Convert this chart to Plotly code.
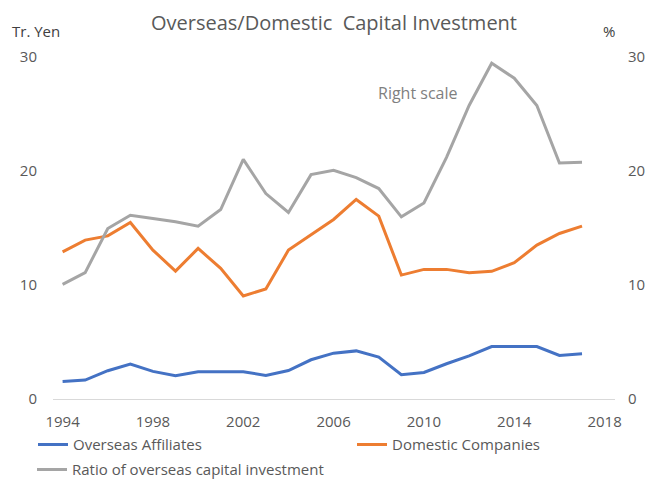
import plotly.graph_objects as go

years = list(range(1994, 2018))
overseas_affiliates = [1.54, 1.66, 2.48, 3.06, 2.42, 2.04, 2.39, 2.36, 2.39, 2.07, 2.5, 3.44,
                       4.02, 4.22, 3.67, 2.13, 2.33, 3.09, 3.79, 4.6, 4.6, 4.6, 3.82, 3.96]
domestic_companies = [12.91, 13.94, 14.31, 15.48, 13.06, 11.22, 13.21, 11.46, 9.04, 9.65, 13.06, 14.37,
                      15.75, 17.5, 16.04, 10.87, 11.37, 11.37, 11.08, 11.2, 11.95, 13.5, 14.52, 15.16]
overseas_ratio = [10.06, 11.08, 14.96, 16.12, 15.83, 15.54, 15.16, 16.62, 21.02, 18.02, 16.36, 19.68,
                  20.06, 19.42, 18.46, 15.98, 17.2, 21.2, 25.75, 29.45, 28.14, 25.75, 20.7, 20.76]
x_ticks = [1994, 1998, 2002, 2006, 2010, 2014, 2018]
y_ticks = [0, 10, 20, 30]

FONT = "'Open Sans', Lato, sans-serif"
GREY_TXT = "#595959"
OFF = 8  # page body margin
W, H = 654 - OFF, 480 - OFF
PT, PB, PL, PR = 57, 399.3, 53, 615  # plot area in window pixels
PH, PW = PB - PT, PR - PL
TICK_SIZE = 15


def py(pix):
    return (PB - pix) / PH


def px(pix):
    return (pix - PL) / PW


fig = go.Figure()
fig.add_trace(go.Scatter(x=years, y=overseas_affiliates, name="Overseas Affiliates", mode="lines",
                         line=dict(color="#4472C4", width=3), legend="legend"))
fig.add_trace(go.Scatter(x=years, y=domestic_companies, name="Domestic Companies", mode="lines",
                         line=dict(color="#ED7D31", width=3), legend="legend3"))
fig.add_trace(go.Scatter(x=years, y=overseas_ratio, name="Ratio of overseas capital investment", mode="lines",
                         line=dict(color="#A5A5A5", width=3), yaxis="y2", legend="legend2"))

leg_common = dict(orientation="h", xanchor="left", yanchor="middle",
                  font=dict(size=15, color=GREY_TXT, family=FONT), bgcolor="rgba(0,0,0,0)", itemwidth=30)

fig.update_layout(
    width=W, height=H,
    margin=dict(l=PL - OFF, r=654 - PR, t=PT - OFF, b=480 - PB, autoexpand=False),
    paper_bgcolor="white", plot_bgcolor="white",
    font=dict(family=FONT, size=13, color=GREY_TXT),
    title=dict(text="Overseas/Domestic  Capital Investment", x=(334 - OFF) / W, xanchor="center",
               y=1 - (23 - OFF) / H, yanchor="middle",
               font=dict(size=20, color=GREY_TXT, family=FONT)),
    xaxis=dict(range=[1993.575, 2018.46], tickvals=x_ticks, ticktext=[str(v) for v in x_ticks],
               showgrid=False, zeroline=False, showline=True, linecolor="#D9D9D9", linewidth=1,
               ticks="", ticklabelstandoff=9, tickfont=dict(size=TICK_SIZE, color=GREY_TXT)),
    yaxis=dict(range=[0, 30], tickvals=y_ticks, showgrid=False, zeroline=False, showline=False,
               ticks="", ticklabelstandoff=15, tickfont=dict(size=TICK_SIZE, color=GREY_TXT)),
    yaxis2=dict(range=[0, 30], tickvals=y_ticks, overlaying="y", side="right", showgrid=False,
                zeroline=False, showline=False, ticks="", ticklabelstandoff=12,
                tickfont=dict(size=TICK_SIZE, color=GREY_TXT)),
    legend=dict(x=px(33), y=py(445), **leg_common),
    legend3=dict(x=px(352), y=py(445), **leg_common),
    legend2=dict(x=px(32), y=py(470), **leg_common),
    showlegend=True,
)

fig.add_annotation(text="Tr. Yen", xref="paper", yref="paper", x=px(10), y=py(31),
                   xanchor="left", yanchor="middle", showarrow=False,
                   font=dict(size=15, color="#404040", family=FONT))
fig.add_annotation(text="%", xref="paper", yref="paper", x=px(601), y=py(31),
                   xanchor="left", yanchor="middle", showarrow=False,
                   font=dict(size=15, color="#404040", family=FONT))
fig.add_annotation(text="Right scale", xref="paper", yref="paper", x=px(417), y=py(93),
                   xanchor="center", yanchor="middle", showarrow=False,
                   font=dict(size=16, color="#7F7F7F", family=FONT))

fig.write_html("out.html")
